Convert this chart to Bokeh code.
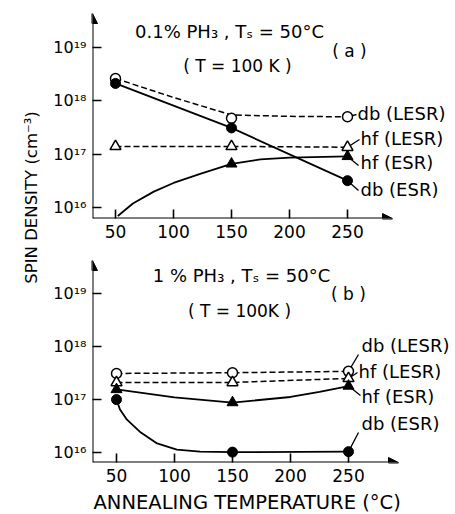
import math
from bokeh.plotting import figure
from bokeh.models import (Range1d, Label, Arrow, NormalHead, FixedTicker,
                          CustomJSTickFormatter, ColumnDataSource)
from bokeh.layouts import row, column
from bokeh.embed import file_html
from bokeh.resources import INLINE

FONT = "DejaVu Sans"

# ---------------- data ----------------
temps = [50, 150, 250]
x_ticks = [50, 100, 150, 200, 250]
y_ticks = [1e16, 1e17, 1e18, 1e19]

# panel (a): 0.1 % PH3
a_db_lesr = [2.6e18, 4.7e17, 5.0e17]
a_db_esr = [2.1e18, 3.1e17, 3.2e16]
a_hf_lesr = [1.4e17, 1.4e17, 1.35e17]
a_hf_esr_t = [150, 250]
a_hf_esr = [6.6e16, 9.1e16]
a_db_lesr_line_t = [50, 100, 150, 200, 250]
a_db_lesr_line = [2.6e18, 1.15e18, 5.4e17, 5.1e17, 5.0e17]
a_hf_esr_line_t = [52, 65, 83, 100, 123, 150, 175, 200, 250]
a_hf_esr_line = [7e15, 1.2e16, 2.0e16, 2.9e16, 4.3e16, 6.6e16, 8.0e16, 8.6e16, 9.1e16]

# panel (b): 1 % PH3
b_db_lesr = [3.1e17, 3.2e17, 3.4e17]
b_hf_lesr = [2.1e17, 2.1e17, 2.5e17]
b_hf_esr = [1.55e17, 8.8e16, 1.8e17]
b_db_esr = [1.0e17, 1.03e16, 1.05e16]
b_hf_esr_line_t = [50, 100, 150, 200, 225, 250]
b_hf_esr_line = [1.55e17, 1.1e17, 8.8e16, 1.12e17, 1.4e17, 1.8e17]
b_db_esr_line_t = [50, 53, 59, 71, 85, 102, 122, 150, 250]
b_db_esr_line = [1.0e17, 6.5e16, 4.2e16, 2.4e16, 1.5e16, 1.15e16, 1.05e16, 1.03e16, 1.05e16]

# ---------------- layout helpers (page pixel -> data) ----------------
LAB_W = 46
LEFT = 46  # frame left border inside panel figures (page x = 92)


def ax_(px):
    return 50 + (px - 115) / 1.16


def ay_(py):
    return 10 ** (19 - (py - 46.7) / 53.5)


def bx_(px):
    return 50 + (px - 116) / 1.16


def by_(py):
    return 10 ** (19 - (py - 292.7) / 53.2)


SUP = CustomJSTickFormatter(code="""
const sup = {"0":"\u2070","1":"\u00b9","2":"\u00b2","3":"\u00b3","4":"\u2074",
             "5":"\u2075","6":"\u2076","7":"\u2077","8":"\u2078","9":"\u2079","-":"\u207b"};
const e = Math.round(Math.log10(tick));
return "10" + String(e).split("").map(c => sup[c]).join("");
""")


def make_panel(height, top, bottom, xr, yr):
    p = figure(width=455 - LAB_W, height=height, x_range=Range1d(*xr), y_range=Range1d(*yr),
               y_axis_type="log", output_backend="svg", toolbar_location=None,
               min_border_left=LEFT, min_border_right=0, min_border_top=top,
               min_border_bottom=bottom, outline_line_color=None,
               background_fill_color="white", border_fill_color="white")
    p.grid.visible = False
    p.xaxis.ticker = FixedTicker(ticks=x_ticks)
    p.yaxis.ticker = FixedTicker(ticks=y_ticks)
    p.yaxis.formatter = SUP
    for ax in (p.xaxis[0], p.yaxis[0]):
        ax.axis_line_color = None
        ax.major_tick_in = 9
        ax.major_tick_out = 0
        ax.major_tick_line_width = 1.6
        ax.major_tick_line_color = "black"
        ax.minor_tick_line_color = None
        ax.major_label_text_font = FONT
        ax.major_label_text_color = "black"
    p.xaxis.major_label_text_font_size = "17px"
    p.xaxis.major_label_standoff = 6
    p.yaxis.major_label_text_font_size = "16px"
    p.yaxis.major_label_standoff = 6
    p.add_layout(Arrow(end=NormalHead(size=10, fill_color="black", line_color="black"),
                       x_start=xr[0], y_start=yr[0], x_end=xr[0], y_end=yr[1],
                       line_width=2, line_color="black"))
    return p


def add_text(p, text, x, y, size=17, align="left"):
    p.add_layout(Label(x=x, y=y, text=text, text_font=FONT, text_font_size=f"{size}px",
                       text_align=align, text_baseline="middle", text_color="black"))


LW = 1.8
DASH = "6 3"

# ---------------- panel (a) ----------------
fa = make_panel(250, 13, 32, (ax_(92), ax_(455)), (ay_(218), ay_(13)))
fa.add_layout(Arrow(end=NormalHead(size=10, fill_color="black", line_color="black"),
                    x_start=ax_(92), y_start=ay_(218), x_end=ax_(392), y_end=ay_(218),
                    line_width=2, line_color="black"))
fa.line(a_db_lesr_line_t, a_db_lesr_line, line_color="black", line_width=1.5, line_dash=DASH)
fa.line(temps, a_hf_lesr, line_color="black", line_width=1.5, line_dash=DASH)
fa.line(temps, a_db_esr, line_color="black", line_width=LW)
fa.line(a_hf_esr_line_t, a_hf_esr_line, line_color="black", line_width=LW)

lead_a = ColumnDataSource(dict(
    x0=[temps[-1], temps[-1], a_hf_esr_t[-1], temps[-1]],
    y0=[a_db_lesr[-1], a_hf_lesr[-1], a_hf_esr[-1], a_db_esr[-1]],
    x1=[ax_(356), ax_(359), ax_(358), ax_(358)],
    y1=[ay_(114), ay_(139), ay_(165), ay_(190)]))
fa.segment("x0", "y0", "x1", "y1", source=lead_a, line_color="black", line_width=1.3)

fa.scatter(temps, a_db_lesr, marker="circle", size=10, fill_color="white",
           line_color="black", line_width=1.5)
fa.scatter(temps, a_hf_lesr, marker="triangle", size=11, fill_color="white",
           line_color="black", line_width=1.5)
fa.scatter(temps, a_db_esr, marker="circle", size=10, fill_color="black", line_color="black")
fa.scatter(a_hf_esr_t, a_hf_esr, marker="triangle", size=11, fill_color="black",
           line_color="black")

add_text(fa, "0.1% PH\u2083 , T\u209b = 50\u00b0C", ax_(229), ay_(31), 18, "center")
add_text(fa, "( T = 100 K )", ax_(237), ay_(65), 17, "center")
add_text(fa, "( a )", ax_(349), ay_(50), 17, "center")
add_text(fa, "db (LESR)", ax_(357), ay_(113), 18)
add_text(fa, "hf (LESR)", ax_(360), ay_(137.5), 18)
add_text(fa, "hf (ESR)", ax_(360), ay_(162), 18)
add_text(fa, "db (ESR)", ax_(360), ay_(189), 18)

# ---------------- panel (b) ----------------
fb = make_panel(240, 10, 28, (bx_(92), bx_(455)), (by_(462), by_(260)))
fb.add_layout(Arrow(end=NormalHead(size=10, fill_color="black", line_color="black"),
                    x_start=bx_(92), y_start=by_(462), x_end=bx_(398), y_end=by_(462),
                    line_width=2, line_color="black"))
fb.line(temps, b_db_lesr, line_color="black", line_width=1.5, line_dash=DASH)
fb.line(temps, b_hf_lesr, line_color="black", line_width=1.5, line_dash=DASH)
fb.line(b_hf_esr_line_t, b_hf_esr_line, line_color="black", line_width=LW)
fb.line(b_db_esr_line_t, b_db_esr_line, line_color="black", line_width=LW)

lead_b = ColumnDataSource(dict(
    x0=[temps[-1], temps[-1], temps[-1], temps[-1]],
    y0=[b_db_lesr[-1], b_hf_lesr[-1], b_hf_esr[-1], b_db_esr[-1]],
    x1=[bx_(358), bx_(357), bx_(360), bx_(358)],
    y1=[by_(354), by_(372), by_(395), by_(432)]))
fb.segment("x0", "y0", "x1", "y1", source=lead_b, line_color="black", line_width=1.3)

fb.scatter(temps, b_db_lesr, marker="circle", size=10, fill_color="white",
           line_color="black", line_width=1.5)
fb.scatter(temps, b_hf_lesr, marker="triangle", size=11, fill_color="white",
           line_color="black", line_width=1.5)
fb.scatter(temps, b_hf_esr, marker="triangle", size=11, fill_color="black", line_color="black")
fb.scatter(temps, b_db_esr, marker="circle", size=10, fill_color="black", line_color="black")

add_text(fb, "1 % PH\u2083 , T\u209b = 50\u00b0C", bx_(241), by_(275), 18, "center")
add_text(fb, "( T = 100K )", bx_(239), by_(310), 17, "center")
add_text(fb, "( b )", bx_(348), by_(293), 17, "center")
add_text(fb, "db (LESR)", bx_(361), by_(345), 18)
add_text(fb, "hf (LESR)", bx_(358), by_(371), 18)
add_text(fb, "hf (ESR)", bx_(361), by_(396), 18)
add_text(fb, "db (ESR)", bx_(361), by_(423), 18)

# ---------------- x axis title (own strip below panel b, frame aligned with panel b) ----------------
XL_H = 514 - 250 - 240
xl = figure(width=455 - LAB_W, height=XL_H, x_range=Range1d(bx_(92), bx_(455)),
            y_range=Range1d(0, XL_H), output_backend="svg", toolbar_location=None,
            x_axis_location=None, y_axis_location=None, min_border=0,
            min_border_left=LEFT, outline_line_color=None)
xl.grid.visible = False
xl.add_layout(Label(x=bx_(93), y=XL_H / 2, text="ANNEALING TEMPERATURE (\u00b0C)",
                    text_font=FONT, text_font_size="19.5px", text_align="left",
                    text_baseline="middle", text_color="black"))

# ---------------- shared y label ----------------
lab = figure(width=LAB_W, height=514, x_range=Range1d(0, LAB_W), y_range=Range1d(0, 514),
             output_backend="svg", toolbar_location=None, x_axis_location=None,
             y_axis_location=None, min_border=0, outline_line_color=None)
lab.grid.visible = False
lab.add_layout(Label(x=31, y=514 - 197, text="SPIN DENSITY (cm\u207b\u00b3)", angle=math.pi / 2,
                     text_font=FONT, text_font_size="16.5px", text_align="center",
                     text_baseline="middle", text_color="black"))

layout = row(lab, column(fa, fb, xl, spacing=0), spacing=0)
open("out.html", "w").write(file_html(layout, INLINE))
